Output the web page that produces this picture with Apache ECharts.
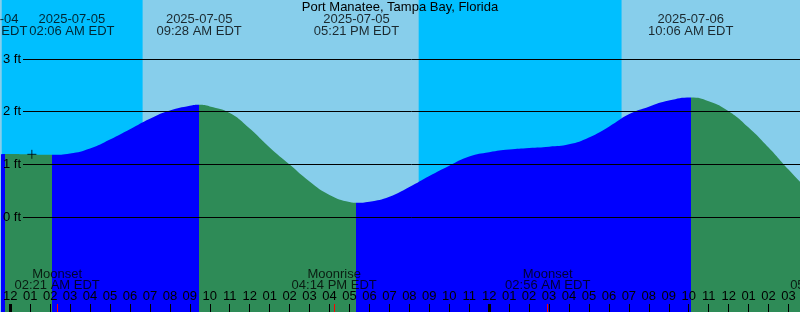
<!DOCTYPE html>
<html><head><meta charset="utf-8">
<script src="https://cdn.jsdelivr.net/npm/echarts@6/dist/echarts.min.js"></script>
<style>html,body{margin:0;padding:0;background:#87CEEB;overflow:hidden}#c{width:800px;height:312px}</style>
</head><body><div id="c"></div>
<script>
// ---------------- data ----------------
const chartTitle = 'Port Manatee, Tampa Bay, Florida';
const baseDate = '2025-07-05';
const tzName = 'EDT';
const levelUnit = 'ft';
const levelTicks = [0, 1, 2, 3];
const hourTicks = [0,1,2,3,4,5,6,7,8,9,10,11,12,13,14,15,16,17,18,19,20,21,22,23,24,25,26,27,28,29,30,31,32,33,34,35,36,37,38,39];
// hours after 2025-07-05 00:00 EDT, tide level in ft
const sampleHours  = [-1, 0, 1, 2, 3, 4, 5, 6, 7, 8, 9, 10, 11, 12, 13, 14, 15, 16, 17, 18, 19, 20, 21, 22, 23, 24, 25, 26, 27, 28, 29, 30, 31, 32, 33, 35, 36, 37, 38, 39, 40];
const sampleLevels = [1.17, 1.194, 1.188, 1.181, 1.205, 1.30, 1.47, 1.665, 1.865, 2.02, 2.11, 2.10, 1.975, 1.68, 1.32, 0.995, 0.675, 0.42, 0.285, 0.29, 0.385, 0.57, 0.78, 0.975, 1.15, 1.23, 1.28, 1.31, 1.335, 1.38, 1.51, 1.715, 1.95, 2.095, 2.21, 2.20, 2.01, 1.70, 1.32, 0.90, 0.50];
const tideEventTimes  = ['2025-07-04 23:44', '2025-07-05 02:06', '2025-07-05 09:28', '2025-07-05 17:21', '2025-07-06 10:06'];
const tideEventLevels = [1.195, 1.18, 2.13, 0.27, 2.27];
const tideEventKinds  = ['high', 'low', 'high', 'low', 'high'];
const moonEventTimes = ['2025-07-05 02:21', '2025-07-05 16:14', '2025-07-06 02:56', '2025-07-06 17:13'];
const moonEventNames = ['Moonset', 'Moonrise', 'Moonset', 'Moonrise'];
const sunEventTimes = ['2025-07-04 20:28', '2025-07-05 06:38', '2025-07-05 20:28', '2025-07-06 06:38', '2025-07-06 20:28'];
const sunEventKinds = ['set', 'rise', 'set', 'rise', 'set'];
const nowTime = '2025-07-05 01:05';
const nowLevel = 1.19;

// ---------------- helpers ----------------
const FONT = 'Liberation Sans, Arial, sans-serif';
const C_NIGHT = '#00BFFF', C_DAY = '#87CEEB', C_RISE = '#0000FF', C_FALL = '#2E8B57';
function toHours(s) {
  const [d, t] = s.split(' ');
  const [Y, M, D] = d.split('-').map(Number);
  const [b0, b1, b2] = baseDate.split('-').map(Number);
  const [hh, mm] = t.split(':').map(Number);
  return (Date.UTC(Y, M - 1, D) - Date.UTC(b0, b1 - 1, b2)) / 3600000 + hh + mm / 60;
}
function pad(n) { return String(n).padStart(2, '0'); }
function fmtTime(h) {
  const [b0, b1, b2] = baseDate.split('-').map(Number);
  const m = Math.round(h * 60);
  const day = Math.floor(m / 1440);
  const mod = m - day * 1440;
  const dt = new Date(Date.UTC(b0, b1 - 1, b2) + day * 86400000);
  const date = dt.toISOString().slice(0, 10);
  const hh = Math.floor(mod / 60), mm = mod % 60;
  const ap = hh < 12 ? 'AM' : 'PM';
  return [date, pad(hh % 12 || 12) + ':' + pad(mm) + ' ' + ap + ' ' + tzName];
}
function hourLabel(v) { const h = ((Math.round(v) % 12) + 12) % 12; return pad(h === 0 ? 12 : h); }

// pixel scale of the chart frame
const W = 800, H = 312;
const pxPerHour = 20, firstTickPx = 8.5;
const xMin = -firstTickPx / pxPerHour, xMax = (W - firstTickPx) / pxPerHour;
const zeroPx = 217, pxPerFt = 52.667;
const yMin = (zeroPx - H) / pxPerFt, yMax = zeroPx / pxPerFt;
const gridTop = zeroPx - levelTicks[levelTicks.length - 1] * pxPerFt;

// tide curve data
const tidePts = [];
sampleHours.forEach((h, i) => tidePts.push([h, sampleLevels[i]]));
tideEventTimes.forEach((t, i) => tidePts.push([toHours(t), tideEventLevels[i]]));
tidePts.sort((a, b) => a[0] - b[0]);

// rising / falling pieces
const evH = tideEventTimes.map(toHours);
const pieces = [];
evH.forEach((h, i) => {
  const before = tideEventKinds[i] === 'high' ? C_RISE : C_FALL;
  if (i === 0) pieces.push({ lt: h, color: before });
  else pieces.push({ gte: evH[i - 1], lt: h, color: before });
});
pieces.push({ gte: evH[evH.length - 1], color: tideEventKinds[evH.length - 1] === 'high' ? C_FALL : C_RISE });

// night areas
const sunH = sunEventTimes.map(toHours);
const nights = [];
sunH.forEach((h, i) => {
  if (sunEventKinds[i] === 'set' && i + 1 < sunH.length) nights.push([{ xAxis: h }, { xAxis: sunH[i + 1] }]);
});

const midnights = hourTicks.filter(h => h % 24 === 0);
const moonH = moonEventTimes.map(toHours);

// label widths for overlap avoidance
const ctx = document.createElement('canvas').getContext('2d');
ctx.font = '13px ' + FONT;
function spread(centers, widths, gap) {
  const off = centers.map(() => 0);
  for (let i = 1; i < centers.length; i++) {
    const need = (widths[i - 1] + widths[i]) / 2 + gap;
    const dist = (centers[i] + off[i]) - (centers[i - 1] + off[i - 1]);
    if (dist < need) { const d = (need - dist) / 2; off[i - 1] -= d; off[i] += d; }
  }
  return off;
}
const tideTexts = evH.map(h => fmtTime(h));
const moonTexts = moonH.map((h, i) => [moonEventNames[i], fmtTime(h)[1]]);
const toPx = h => (h - xMin) * pxPerHour;
const tideOff = spread(evH.map(toPx), tideTexts.map(t => Math.max(...t.map(s => ctx.measureText(s).width))), 2);
const moonOff = spread(moonH.map(toPx), moonTexts.map(t => Math.max(...t.map(s => ctx.measureText(s).width))), 2);

const txt = { fontSize: 13, fontFamily: FONT, color: '#000' };
const hiddenLine = { show: false, onZero: false };

const option = {
  animation: false,
  backgroundColor: C_DAY,
  title: { text: chartTitle, left: 'center', top: 1, padding: 0, textStyle: Object.assign({ fontWeight: 'normal', lineHeight: 13 }, txt) },
  grid: [
    { left: 0, right: 0, top: 0, bottom: 0, show: false },
    { left: 22, right: 0, top: gridTop, height: zeroPx - gridTop, show: false }
  ],
  visualMap: { type: 'piecewise', show: false, dimension: 0, seriesIndex: 1, pieces: pieces },
  xAxis: [
    { gridIndex: 0, type: 'value', min: xMin, max: xMax, position: 'bottom', z: 10,
      axisLine: hiddenLine, splitLine: { show: false },
      axisTick: { show: true, inside: true, length: 8, customValues: hourTicks, lineStyle: { color: '#000', width: 1 } },
      axisLabel: { show: true, inside: true, margin: 9, customValues: hourTicks, interval: 0, formatter: hourLabel, fontSize: 13, fontFamily: FONT, color: '#000', lineHeight: 13 } },
    { gridIndex: 0, type: 'value', min: xMin, max: xMax, position: 'bottom', z: 11,
      axisLine: hiddenLine, splitLine: { show: false }, axisLabel: { show: false },
      axisTick: { show: true, inside: true, length: 8, customValues: midnights, lineStyle: { color: '#000', width: 3 } } },
    { gridIndex: 0, type: 'value', min: xMin, max: xMax, position: 'bottom', z: 11,
      axisLine: hiddenLine, splitLine: { show: false }, axisLabel: { show: false },
      axisTick: { show: true, inside: true, length: 8, customValues: moonH, lineStyle: { color: '#FF0000', width: 1 } } },
    { gridIndex: 1, type: 'value', min: xMin, max: xMax, show: false, axisLine: hiddenLine }
  ],
  yAxis: [
    { gridIndex: 0, type: 'value', min: yMin, max: yMax, show: false, axisLine: hiddenLine },
    { gridIndex: 1, type: 'value', min: levelTicks[0], max: levelTicks[levelTicks.length - 1], interval: 1, z: 10,
      axisLine: hiddenLine, axisTick: { show: false },
      splitLine: { show: true, lineStyle: { color: '#000', width: 1 } },
      axisLabel: { show: true, align: 'left', margin: 20, showMinLabel: true, showMaxLabel: true, formatter: v => v + ' ' + levelUnit, fontSize: 13, fontFamily: FONT, color: '#000' } }
  ],
  series: [
    { type: 'line', xAxisIndex: 0, yAxisIndex: 0, data: [], z: 1, silent: true,
      markArea: { silent: true, itemStyle: { color: C_NIGHT, opacity: 1 }, data: nights } },
    { type: 'line', xAxisIndex: 0, yAxisIndex: 0, data: tidePts, z: 2, silent: true,
      smooth: 0.5, showSymbol: false, symbol: 'none',
      lineStyle: { width: 0 }, areaStyle: { opacity: 1, origin: 'start' } },
    { type: 'scatter', xAxisIndex: 0, yAxisIndex: 0, z: 5, silent: true, clip: false,
      symbolSize: 1, itemStyle: { color: 'rgba(0,0,0,0)' },
      data: evH.map((h, i) => ({ value: [h, yMax], label: { offset: [tideOff[i], 25.5] }, text: tideTexts[i].join('\n') })),
      label: Object.assign({ show: true, position: 'inside', lineHeight: 12, align: 'center', formatter: p => p.data.text }, txt) },
    { type: 'scatter', xAxisIndex: 0, yAxisIndex: 0, z: 5, silent: true, clip: false,
      symbolSize: 1, itemStyle: { color: 'rgba(0,0,0,0)' },
      data: moonH.map((h, i) => ({ value: [h, yMin], label: { offset: [moonOff[i], -32.25] }, text: moonTexts[i].join('\n') })),
      label: Object.assign({ show: true, position: 'inside', lineHeight: 11, align: 'center', formatter: p => p.data.text }, txt) },
    { type: 'scatter', xAxisIndex: 0, yAxisIndex: 0, z: 6, silent: true,
      symbol: 'path://M0,4.5H9M4.5,0V9', symbolSize: 9,
      itemStyle: { color: 'rgba(0,0,0,0)', borderColor: '#000', borderWidth: 1 },
      data: [[toHours(nowTime), nowLevel]] }
  ]
};
const chart = echarts.init(document.getElementById('c'), null, { renderer: 'canvas' });
chart.setOption(option);
</script>
</body></html>
